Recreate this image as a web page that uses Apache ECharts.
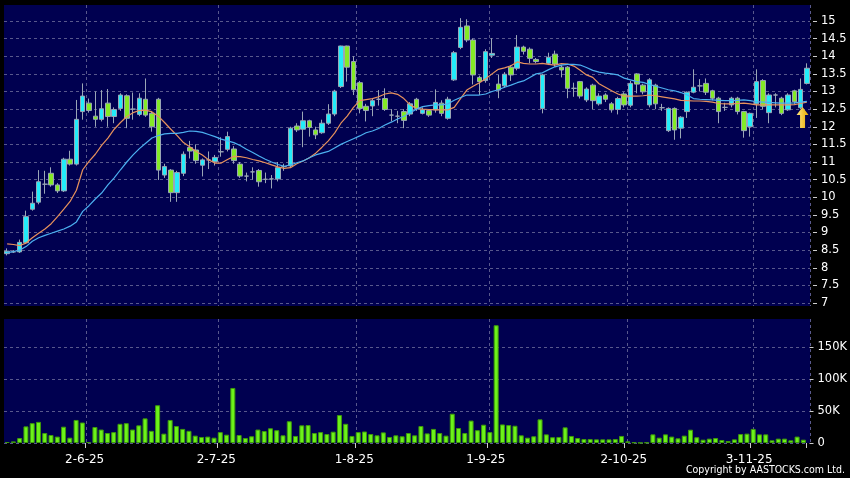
<!DOCTYPE html>
<html>
<head>
<meta charset="utf-8">
<script src="https://cdn.jsdelivr.net/npm/echarts@6/dist/echarts.min.js"></script>
<style>
html,body{margin:0;padding:0;background:#000;}
#chart{width:850px;height:478px;}
</style>
</head>
<body>
<div id="chart"></div>
<script>
const dates = [
'14-5-25','15-5-25','16-5-25','19-5-25','20-5-25','21-5-25','22-5-25','23-5-25','26-5-25','27-5-25','28-5-25','29-5-25','30-5-25',
'2-6-25','3-6-25','4-6-25','5-6-25','6-6-25','9-6-25','10-6-25','11-6-25','12-6-25','13-6-25','16-6-25','17-6-25','18-6-25','19-6-25','20-6-25','23-6-25','24-6-25','25-6-25','26-6-25','27-6-25','30-6-25',
'2-7-25','3-7-25','4-7-25','7-7-25','8-7-25','9-7-25','10-7-25','11-7-25','14-7-25','15-7-25','16-7-25','17-7-25','18-7-25','21-7-25','22-7-25','23-7-25','24-7-25','25-7-25','28-7-25','29-7-25','30-7-25','31-7-25',
'1-8-25','4-8-25','5-8-25','6-8-25','7-8-25','8-8-25','11-8-25','12-8-25','13-8-25','14-8-25','15-8-25','18-8-25','19-8-25','20-8-25','21-8-25','22-8-25','25-8-25','26-8-25','27-8-25','28-8-25','29-8-25',
'1-9-25','2-9-25','3-9-25','4-9-25','5-9-25','8-9-25','9-9-25','10-9-25','11-9-25','12-9-25','15-9-25','16-9-25','17-9-25','18-9-25','19-9-25','22-9-25','23-9-25','24-9-25','25-9-25','26-9-25','29-9-25','30-9-25',
'2-10-25','3-10-25','6-10-25','8-10-25','9-10-25','10-10-25','13-10-25','14-10-25','15-10-25','16-10-25','17-10-25','20-10-25','21-10-25','22-10-25','23-10-25','24-10-25','27-10-25','28-10-25','30-10-25','31-10-25',
'3-11-25','4-11-25','5-11-25','6-11-25','7-11-25','10-11-25','11-11-25','12-11-25','13-11-25'
];
const tickLabels = ['2-6-25','2-7-25','1-8-25','1-9-25','2-10-25','3-11-25'];

const opens = [8.4,8.45,8.45,8.71,9.66,9.86,10.37,10.68,10.35,10.18,
11.08,10.94,12.43,12.67,12.3,12.21,12.67,12.29,12.52,12.88,
12.5,12.35,12.78,12.38,12.78,10.63,10.77,10.13,10.68,11.41,
11.34,10.91,11.06,11.01,11.29,11.36,11.37,10.94,10.6,10.72,
10.76,10.51,10.52,10.52,10.87,10.89,12.02,11.93,12.17,11.91,
11.83,12.1,12.36,13.14,14.29,13.85,13.25,12.58,12.59,12.78,
12.8,12.33,12.3,12.43,12.36,12.78,12.38,12.46,12.48,12.67,
12.24,13.33,14.25,14.86,14.46,13.4,13.31,14.03,13.21,13.16,
13.69,13.66,14.26,14.2,13.91,12.52,13.8,14.06,13.69,13.69,
13.09,13.28,12.76,13.18,12.65,12.9,12.65,12.49,12.93,12.61,
13.5,13.18,12.62,13.18,12.54,11.89,12.52,11.96,12.43,12.98,
13.16,13.23,13.02,12.81,12.55,12.62,12.81,12.43,12.0,12.65,
13.31,12.4,12.9,12.81,12.48,13.02,12.54,13.23];
const closes = [8.47,8.45,8.72,9.45,9.83,10.44,10.37,10.35,10.18,11.08,
10.94,12.21,12.87,12.46,12.21,12.51,12.29,12.49,12.9,12.24,
12.5,12.81,12.33,12.0,10.77,10.87,10.13,10.7,11.22,11.31,
11.04,11.06,11.06,11.13,11.29,11.72,11.04,10.6,10.6,10.72,
10.44,10.51,10.52,10.84,10.87,11.96,11.91,12.17,11.98,11.77,
12.1,12.36,13.01,14.29,13.69,13.05,12.52,12.46,12.74,12.78,
12.49,12.33,12.3,12.18,12.65,12.52,12.48,12.33,12.69,12.38,
12.78,14.1,14.82,14.46,13.47,13.28,14.13,14.08,13.04,13.49,
13.47,14.26,14.14,13.94,13.85,13.47,13.97,13.78,13.61,13.09,
13.09,12.87,13.07,12.74,12.87,12.78,12.48,12.8,12.62,13.23,
13.21,12.99,13.33,12.65,12.54,12.52,11.91,12.27,12.98,13.12,
13.16,12.98,12.81,12.43,12.55,12.81,12.43,11.89,12.38,13.28,
12.58,12.9,12.9,12.38,12.9,12.71,13.06,13.66];
const lows = [8.35,8.42,8.42,8.7,9.62,9.8,10.1,10.3,10.12,10.15,
10.9,10.9,12.2,12.4,12.0,12.15,12.0,12.1,12.45,11.96,
12.2,12.3,12.28,11.86,10.49,10.55,9.87,9.87,10.6,11.1,
10.95,10.59,10.8,10.9,11.15,11.3,10.95,10.55,10.45,10.5,
10.3,10.4,10.25,10.45,10.75,10.85,11.85,11.42,11.72,11.65,
11.8,12.05,12.3,13.1,13.28,12.9,12.38,12.15,12.3,12.6,
12.45,12.15,12.1,11.96,12.3,12.45,12.35,12.28,12.4,12.3,
12.2,13.3,14.2,14.4,13.2,12.9,13.25,13.95,12.81,13.1,
13.3,13.6,14.05,13.8,13.8,12.38,13.75,13.7,13.4,12.81,
12.85,12.8,12.7,12.5,12.6,12.7,12.4,12.35,12.55,12.55,
12.95,12.92,12.55,12.5,12.45,11.85,11.63,11.67,12.25,12.95,
13.0,12.9,12.75,12.1,12.45,12.55,12.35,11.69,11.72,12.25,
12.5,12.1,12.55,12.33,12.45,12.65,12.5,13.2];
const highs = [8.55,8.5,8.8,9.62,10.16,10.77,10.75,10.85,10.4,11.12,
11.32,12.76,13.23,12.8,13.0,13.04,13.07,12.55,12.95,12.92,
12.97,12.95,13.37,12.45,12.82,10.95,10.8,10.75,11.3,11.6,
11.5,11.1,11.3,11.2,11.7,11.86,11.45,11.0,10.7,10.85,
10.8,10.7,10.63,11.0,10.95,12.0,12.1,12.43,12.2,12.0,
12.2,12.64,13.05,14.3,14.3,14.0,13.3,12.65,12.8,13.04,
13.09,12.5,12.45,12.5,12.7,12.82,12.55,12.5,13.06,12.75,
12.85,14.15,15.08,15.05,14.5,13.45,14.2,14.51,13.47,13.55,
13.75,14.6,14.3,14.25,13.95,13.5,14.1,14.16,13.75,13.72,
13.25,13.3,13.12,13.22,12.95,12.95,12.7,12.85,12.98,13.3,
13.52,13.22,13.38,13.22,12.65,12.55,12.55,12.3,13.0,13.63,
13.35,13.37,13.05,12.85,12.68,12.85,12.85,12.45,12.4,13.63,
13.35,12.95,12.95,12.85,12.95,13.05,13.37,13.8];
const maShort = [8.68,8.66,8.63,8.7,8.85,8.98,9.1,9.25,9.45,9.66,
9.88,10.2,10.78,11.02,11.22,11.47,11.68,11.93,12.12,12.29,
12.4,12.46,12.47,12.42,12.3,12.12,11.93,11.75,11.55,11.43,
11.3,11.2,11.06,10.97,10.97,11.07,11.16,11.15,11.12,11.07,
11.03,10.98,10.92,10.86,10.82,10.84,10.95,11.03,11.12,11.25,
11.42,11.6,11.82,12.1,12.3,12.55,12.74,12.77,12.8,12.85,
12.93,12.96,12.92,12.8,12.62,12.52,12.5,12.49,12.48,12.48,
12.48,12.55,12.8,13.04,13.15,13.25,13.36,13.5,13.63,13.67,
13.73,13.84,13.8,13.78,13.78,13.8,13.77,13.75,13.79,13.78,
13.72,13.6,13.47,13.4,13.22,13.12,13.02,12.93,12.87,12.87,
12.87,12.88,12.9,12.88,12.85,12.82,12.79,12.75,12.74,12.73,
12.73,12.72,12.7,12.66,12.65,12.65,12.66,12.67,12.65,12.62,
12.62,12.62,12.62,12.62,12.62,12.63,12.66,12.7];
const maLong = [8.43,8.46,8.5,8.6,8.75,8.85,8.92,8.98,9.04,9.1,
9.18,9.3,9.6,9.76,9.95,10.12,10.35,10.55,10.78,11.0,
11.2,11.38,11.53,11.68,11.75,11.8,11.81,11.81,11.84,11.88,
11.87,11.84,11.78,11.72,11.65,11.6,11.55,11.47,11.36,11.27,
11.17,11.08,11.0,10.93,10.88,10.92,10.98,11.03,11.12,11.2,
11.25,11.3,11.4,11.5,11.58,11.66,11.74,11.83,11.88,11.95,
12.05,12.13,12.22,12.3,12.4,12.5,12.57,12.6,12.62,12.62,
12.65,12.75,12.83,12.9,12.9,12.9,12.93,13.0,13.05,13.12,
13.18,13.25,13.3,13.4,13.5,13.53,13.62,13.7,13.75,13.77,
13.77,13.75,13.68,13.6,13.55,13.52,13.5,13.47,13.38,13.33,
13.28,13.26,13.2,13.15,13.1,13.05,13.02,12.97,12.9,12.8,
12.78,12.77,12.76,12.75,12.74,12.74,12.75,12.76,12.74,12.71,
12.7,12.69,12.68,12.67,12.67,12.68,12.7,12.72];
const volumesK = [1.5,2.5,7.8,26,31,33,15.6,12.5,10,25.5,
8.3,36,32,1.5,25,21,15.6,17,30,31,
21,27.6,38.5,19,59,14.6,36,26.5,22,19,
11.5,9.4,10,8.3,17,13,86,12.5,7.8,10.5,
21,18.7,23,20,12,34,11,27.6,28,15.6,
17,14,17.7,43.7,30,11,17,18,14,12,
16.6,9.4,12,10.5,15.6,12,26.5,15,22,15.6,
11.5,45.8,23.4,15.6,35,20,28.6,17,184,29,
28,27,12,8.3,10.5,37,13.5,9,9.4,24.5,
11,7.8,6.2,6.2,5.7,5.7,5.7,6.2,11,2.6,
1,0.3,0.8,13.5,8.3,13.5,10,7.3,11.5,20.8,
9,5.2,6.8,7.8,4.7,3.1,5.7,14,14.6,22,
13.5,13.5,4.2,6.8,6.8,4.2,10,5.2];
const priceTicks = {min: 7, max: 15, step: 0.5};
const volTicks = {min: 0, max: 150, step: 50};

const candles = dates.map((d, i) => [opens[i], closes[i], lows[i], highs[i]]);
const isMonth = (idx) => tickLabels.indexOf(dates[idx]) >= 0;

const FONT = '"DejaVu Sans",sans-serif';
const FONTC = '"DejaVu Sans Condensed","DejaVu Sans",sans-serif';
const NAVY = '#000050';
const GRIDC = '#58588c';

const chart = echarts.init(document.getElementById('chart'), null, {renderer: 'canvas'});
const hiddenY = (gi) => ({type: 'value', gridIndex: gi, show: false, min: 0, max: 1, splitLine: {show: false}});
const bgX = (gi) => ({
  type: 'category', gridIndex: gi, data: dates, boundaryGap: true,
  axisLine: {show: false}, axisTick: {show: false}, axisLabel: {show: false},
  splitLine: {show: true, interval: (i) => isMonth(i), lineStyle: {color: GRIDC, type: [3, 3], width: 1}}
});

chart.setOption({
  backgroundColor: '#000000',
  animation: false,
  title: {
    text: 'Copyright by AASTOCKS.com Ltd.',
    right: 5, bottom: 2, padding: 0,
    textStyle: {color: '#ffffff', fontSize: 10.5, fontWeight: 'normal', fontFamily: FONTC}
  },
  grid: [
    {left: 4, right: 40, top: 5, height: 301, show: true, backgroundColor: NAVY, borderWidth: 0, z: -1},
    {left: 4, right: 40, top: 319, height: 124, show: true, backgroundColor: NAVY, borderWidth: 0, z: -1},
    {left: 4, right: 40, top: 21, height: 282},
    {left: 4, right: 40, top: 347, height: 96}
  ],
  xAxis: [
    bgX(0),
    bgX(1),
    {type: 'category', gridIndex: 2, data: dates, boundaryGap: true, show: false},
    {type: 'category', gridIndex: 3, data: dates, boundaryGap: true,
      axisLine: {show: false},
      axisTick: {show: true, interval: (i) => isMonth(i), length: 5, lineStyle: {color: '#cccccc'}},
      axisLabel: {show: true, interval: (i) => isMonth(i), color: '#ffffff', fontSize: 12, fontFamily: FONT,
        margin: 11, padding: [0, 8, 0, 0]},
      splitLine: {show: false}}
  ],
  yAxis: [
    hiddenY(0),
    hiddenY(1),
    {type: 'value', gridIndex: 2, position: 'right', min: priceTicks.min, max: priceTicks.max, interval: priceTicks.step,
      offset: 3,
      axisLine: {show: false},
      axisTick: {show: true, length: 4, lineStyle: {color: '#cccccc'}},
      axisLabel: {color: '#ffffff', fontSize: 11.5, fontFamily: FONT, margin: 8},
      splitLine: {show: true, lineStyle: {color: GRIDC, type: [3, 3], width: 1}}},
    {type: 'value', gridIndex: 3, position: 'right', min: volTicks.min, max: volTicks.max, interval: volTicks.step,
      offset: 3,
      axisLine: {show: false},
      axisTick: {show: true, length: 4, lineStyle: {color: '#cccccc'}},
      axisLabel: {color: '#ffffff', fontSize: 11.5, fontFamily: FONT, margin: 8,
        formatter: (v) => v === 0 ? '0' : v + 'K'},
      splitLine: {show: true, lineStyle: {color: GRIDC, type: [3, 3], width: 1}}}
  ],
  series: [
    {type: 'candlestick', xAxisIndex: 2, yAxisIndex: 2, data: candles, barWidth: 5, clip: false,
      itemStyle: {color: '#22ecfa', color0: '#84ea26', borderColor: '#9aa6b6', borderColor0: '#9aa6b6', borderWidth: 1},
      markPoint: {
        silent: true,
        symbol: 'path://M6,0 L12,8 L8.5,8 L8.5,21 L3.5,21 L3.5,8 L0,8 Z',
        symbolSize: [12, 21],
        symbolOffset: [2, 0],
        label: {show: false},
        itemStyle: {color: new echarts.graphic.LinearGradient(0, 0, 1, 0, [{offset: 0, color: '#ffe680'}, {offset: 1, color: '#e6a800'}])},
        data: [{coord: [dates[126], 12.26]}]
      }},
    {type: 'line', xAxisIndex: 2, yAxisIndex: 2, data: maShort, symbol: 'none', clip: false,
      lineStyle: {color: '#e8925c', width: 1.2}},
    {type: 'line', xAxisIndex: 2, yAxisIndex: 2, data: maLong, symbol: 'none', clip: false,
      lineStyle: {color: '#4cb0f0', width: 1.2}},
    {type: 'bar', xAxisIndex: 3, yAxisIndex: 3, data: volumesK, barWidth: 5, clip: false,
      itemStyle: {color: '#6cf21a', borderColor: '#3e9a0a', borderWidth: 1}}
  ]
});
</script>
</body>
</html>
